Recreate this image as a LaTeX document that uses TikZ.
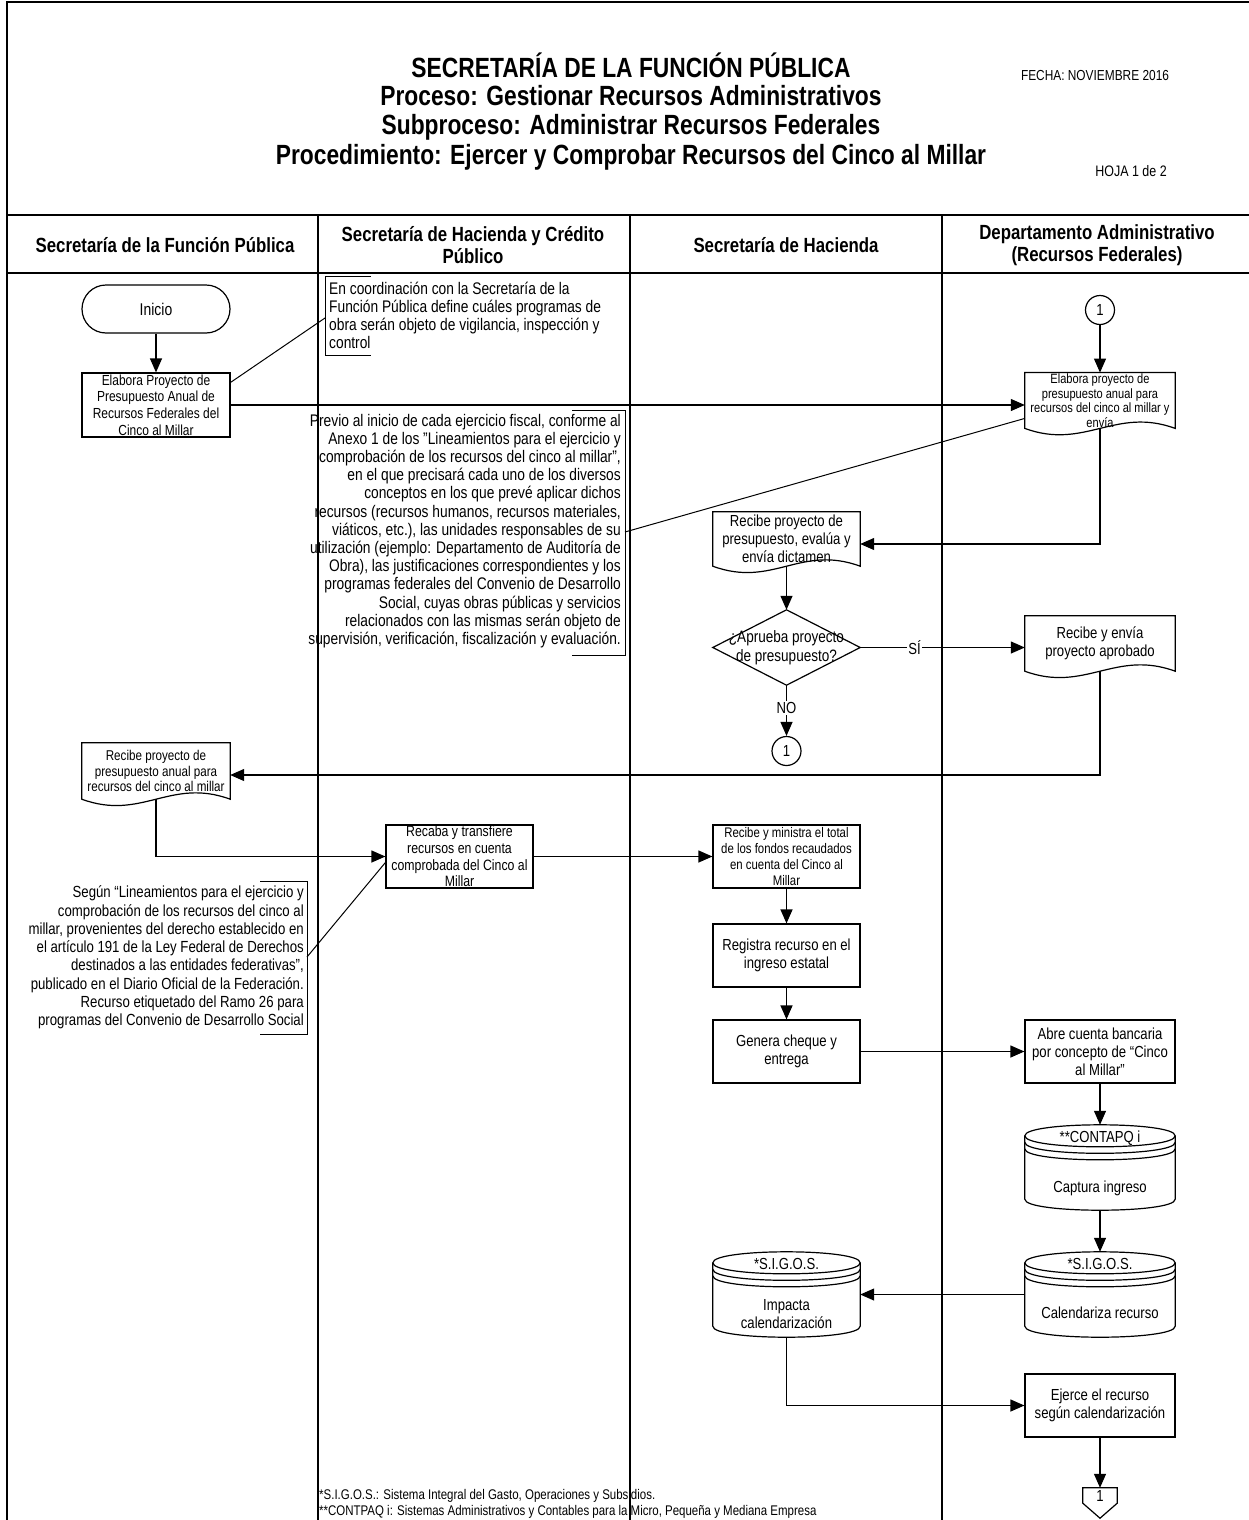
\documentclass[tikz,border=0pt]{standalone}
\usepackage{fontspec}
\setmainfont[FakeStretch=0.82]{Liberation Sans}
\usetikzlibrary{arrows.meta,calc}
\newcommand\fs[2]{\fontsize{#1}{#2}\selectfont}
\newcommand\docoutline[1]{\draw[ln] (#1.south west) -- (#1.north west) -- (#1.north east) -- (#1.south east) .. controls ($(#1.south east)+(-60,-22)$) and ($(#1.south west)+(60,22)$) .. (#1.south west) -- cycle;}
\newcommand\dboutline[1]{%
  \draw[ln] ($(#1.north west)+(0,11)$) .. controls ($(#1.north west)+(0,-3.67)$) and ($(#1.north east)+(0,-3.67)$) .. ($(#1.north east)+(0,11)$) -- ($(#1.south east)+(0,-11)$) .. controls ($(#1.south east)+(0,3.67)$) and ($(#1.south west)+(0,3.67)$) .. ($(#1.south west)+(0,-11)$) -- cycle;
  \foreach \s in {11,17.5,24} {\draw[ln] ($(#1.north west)+(0,\s)$) .. controls ($(#1.north west)+(0,\s+14.67)$) and ($(#1.north east)+(0,\s+14.67)$) .. ($(#1.north east)+(0,\s)$);}}
\tikzset{
  ln/.style={line width=1.2pt},
  thin ln/.style={line width=1pt},
  frame/.style={line width=2pt},
  arr/.style={ln,-{Triangle[length=14pt,width=12pt]}},
  box/.style={draw,ln,minimum width=147pt,minimum height=63pt,inner sep=1pt,align=center,font=\fs{16}{18}},
  docnode/.style={minimum width=148pt,minimum height=55pt,inner sep=1pt,align=center,font=\fs{16}{18}},
  dbnode/.style={minimum width=148pt,minimum height=85pt,inner sep=0pt},
  dbtext/.style={inner sep=0pt,align=center,font=\fs{16}{18}},
  title/.style={font=\bfseries\fs{27.8}{30}},
  lanehead/.style={font=\bfseries\fs{20.5}{22},align=center},
  lbl/.style={fill=white,inner sep=1pt,font=\fs{16}{18}},
  conn/.style={draw,ln,circle,minimum size=29pt,inner sep=0pt,font=\fs{16}{18}},
}
\begin{document}
\begin{tikzpicture}[x=1pt,y=-1pt]
\useasboundingbox (0,0) rectangle (1249,1520);
% frame and lanes
\draw[frame] (7,1520) -- (7,2) -- (1249,2);
\draw[frame] (7,215) -- (1249,215);
\draw[frame] (7,273) -- (1249,273);
\draw[frame] (317.5,215) -- (317.5,1520);
\draw[frame] (630,215) -- (630,1520);
\draw[frame] (942,215) -- (942,1520);
% titles
\node[title] (t1) at (631,65) {SECRETARÍA DE LA FUNCIÓN PÚBLICA};
\node[title] (t2) at (631,96) {Proceso: Gestionar Recursos Administrativos};
\node[title] (t3) at (631,127) {Subproceso: Administrar Recursos Federales};
\node[title] (t4) at (631,157) {Procedimiento: Ejercer y Comprobar Recursos del Cinco al Millar};
\node[font=\fs{14.5}{17}] (fecha) at (1095,76) {FECHA: NOVIEMBRE 2016};
\node[font=\fs{15.2}{17}] (hoja) at (1131,171) {HOJA 1 de 2};
% lane headers
\node[lanehead] (h1) at (165,245) {Secretaría de la Función Pública};
\node[lanehead] (h2) at (473,245) {Secretaría de Hacienda y Crédito\\Público};
\node[lanehead] (h3) at (786,245) {Secretaría de Hacienda};
\node[lanehead] (h4) at (1097,245) {Departamento Administrativo\\(Recursos Federales)};
% lane 1
\node[draw,ln,rounded corners=24pt,minimum width=148pt,minimum height=48pt,font=\fs{17}{18}] (inicio) at (156,309) {Inicio};
\node[box,minimum width=148pt,minimum height=64pt,font=\fs{14.6}{16.7}] (box1) at (156,405) {Elabora Proyecto de\\Presupuesto Anual de\\Recursos Federales del\\Cinco al Millar};
\node[docnode,minimum height=56pt,font=\fs{14.2}{15.7}] (docF) at (156,771) {Recibe proyecto de\\presupuesto anual para\\recursos del cinco al millar};
\docoutline{docF}
\node[anchor=east,align=right,inner sep=0pt,font=\fs{16.1}{18.3}] (ann3) at (304,957.5) {Según “Lineamientos para el ejercicio y\\comprobación de los recursos del cinco al\\millar, provenientes del derecho establecido en\\el artículo 191 de la Ley Federal de Derechos\\destinados a las entidades federativas”,\\publicado en el Diario Oficial de la Federación.\\Recurso etiquetado del Ramo 26 para\\programas del Convenio de Desarrollo Social};
\draw[thin ln] (260,881) -- (307,881) -- (307,1034) -- (260,1034);
\coordinate (b3) at (307,957);
% lane 2
\node[anchor=west,align=left,inner sep=0pt,font=\fs{16.8}{18}] (ann1) at (329,315.5) {En coordinación con la Secretaría de la\\Función Pública define cuáles programas de\\obra serán objeto de vigilancia, inspección y\\control};
\draw[thin ln] (371,276) -- (325,276) -- (325,355) -- (371,355);
\coordinate (b1) at (325,318);
\node[anchor=east,align=right,inner sep=0pt,font=\fs{16.8}{18.2}] (ann2) at (621,531) {Previo al inicio de cada ejercicio fiscal, conforme al\\Anexo 1 de los "Lineamientos para el ejercicio y\\comprobación de los recursos del cinco al millar",\\en el que precisará cada uno de los diversos\\conceptos en los que prevé aplicar dichos\\recursos (recursos humanos, recursos materiales,\\viáticos, etc.), las unidades responsables de su\\utilización (ejemplo: Departamento de Auditoría de\\Obra), las justificaciones correspondientes y los\\programas federales del Convenio de Desarrollo\\Social, cuyas obras públicas y servicios\\relacionados con las mismas serán objeto de\\supervisión, verificación, fiscalización y evaluación.};
\draw[thin ln] (572,410) -- (625,410) -- (625,655) -- (572,655);
\coordinate (b2) at (625,532);
\node[box,font=\fs{15}{16.7}] (recaba) at (459.5,856.5) {Recaba y transfiere\\recursos en cuenta\\comprobada del Cinco al\\Millar};
% lane 3
\node[docnode,minimum width=147pt,minimum height=54pt] (docR) at (786.5,539) {Recibe proyecto de\\presupuesto, evalúa y\\envía dictamen};
\docoutline{docR}
\node[minimum width=147pt,minimum height=75pt,inner sep=0pt,align=center,font=\fs{16.5}{18.5}] (dia) at (786.5,647.5) {¿Aprueba proyecto\\de presupuesto?};
\draw[ln] (dia.north) -- (dia.east) -- (dia.south) -- (dia.west) -- cycle;
\node[conn] (c1b) at (786.5,751) {1};
\node[box,font=\fs{13.9}{15.7}] (ministra) at (786.5,856.5) {Recibe y ministra el total\\de los fondos recaudados\\en cuenta del Cinco al\\Millar};
\node[box,font=\fs{16}{17.5}] (registra) at (786.5,955.5) {Registra recurso en el\\ingreso estatal};
\node[box] (genera) at (786.5,1051.5) {Genera cheque y\\entrega};
\node[dbnode,minimum width=147pt] (dbI) at (786.5,1294.5) {};
\dboutline{dbI}
\node[dbtext] (dbIt) at (786.5,1264) {*S.I.G.O.S.};
\node[dbtext] (dbIb) at (786.5,1314) {Impacta\\calendarización};
% lane 4
\node[conn] (c1a) at (1100,310) {1};
\node[docnode,minimum width=150pt,font=\fs{13.5}{14.5}] (docE) at (1100,400.5) {Elabora proyecto de\\presupuesto anual para\\recursos del cinco al millar y\\envía};
\docoutline{docE}
\node[docnode,minimum width=150pt] (docA) at (1100,643.5) {Recibe y envía\\proyecto aprobado};
\docoutline{docA}
\node[box,minimum width=150pt] (abre) at (1100,1051.5) {Abre cuenta bancaria\\por concepto de “Cinco\\al Millar”};
\node[dbnode,minimum width=150pt] (dbC) at (1100,1167.5) {};
\dboutline{dbC}
\node[dbtext] (dbCt) at (1100,1138) {**CONTAPQ i};
\node[dbtext] (dbCb) at (1100,1188) {Captura ingreso};
\node[dbnode,minimum width=150pt] (dbS) at (1100,1294.5) {};
\dboutline{dbS}
\node[dbtext] (dbSt) at (1100,1264) {*S.I.G.O.S.};
\node[dbtext] (dbSb) at (1100,1313) {Calendariza recurso};
\node[box,minimum width=150pt] (ejerce) at (1100,1405.5) {Ejerce el recurso\\según calendarización};
\node[minimum width=34pt,minimum height=15pt,inner sep=0pt,font=\fs{16}{18}] (off) at (1100,1495.5) {1};
\draw[ln] (off.north west) -- (off.north east) -- (off.south east) -- ($(off.south)+(0,15)$) -- (off.south west) -- cycle;
% footnotes
\node[anchor=west,align=left,inner sep=0pt,font=\fs{14}{16}] (foot) at (319,1504) {*S.I.G.O.S.: Sistema Integral del Gasto, Operaciones y Subsidios.\\**CONTPAQ i: Sistemas Administrativos y Contables para la Micro, Pequeña y Mediana Empresa};
% connectors
\draw[arr] (inicio.south) -- (box1.north);
\draw[arr] (box1.east) -- (box1.east -| docE.west);
\draw[thin ln] ($(box1.north east)+(0,10)$) -- (b1);
\draw[arr] (c1a.south) -- (docE.north);
\draw[thin ln] (b2) -- ($(docE.south west)+(0,-10)$);
\draw[arr] (docE.south) |- ($(docR.east)+(0,5)$);
\draw[arr] (docR.south) -- (dia.north);
\draw[arr] (dia.east) -- node[lbl,pos=0.33] {SÍ} (dia.east -| docA.west);
\draw[arr] (dia.south) -- node[lbl,pos=0.45] {NO} (c1b.north);
\draw[arr] (docA.south) |- ($(docF.east)+(0,4)$);
\draw[arr] (docF.south) |- (recaba.west);
\draw[thin ln] (b3) -- ($(recaba.west)+(0,6)$);
\draw[arr] (recaba.east) -- (ministra.west);
\draw[arr] (ministra.south) -- (registra.north);
\draw[arr] (registra.south) -- (genera.north);
\draw[arr] (genera.east) -- (abre.west);
\draw[arr] (abre.south) -- (dbC.north);
\draw[arr] (dbC.south) -- (dbS.north);
\draw[arr] (dbS.west) -- (dbI.east);
\draw[arr] (dbI.south) |- (ejerce.west);
\draw[arr] (ejerce.south) -- (off.north);
\end{tikzpicture}
\end{document}
